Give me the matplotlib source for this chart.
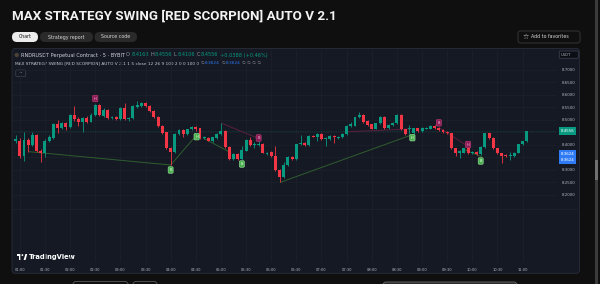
import numpy as np
import matplotlib.pyplot as plt
import matplotlib.transforms as mtransforms
from matplotlib.patches import FancyBboxPatch, Rectangle, Circle, Polygon

# RNDRUSDT 5 min candles, first candle 00:50
start_time = '00:50'
opens = [8.4520, 8.4128, 8.4148, 8.3560, 8.4188, 8.3988, 8.4388, 8.3760, 8.3656, 8.4160,
         8.4256, 8.4816, 8.4656, 8.4856, 8.4696, 8.5188, 8.5028, 8.4896, 8.5056, 8.4920,
         8.5188, 8.5588, 8.5160, 8.5388, 8.5056, 8.5108, 8.5028, 8.5456, 8.5016, 8.5056,
         8.5520, 8.5560, 8.5680, 8.5548, 8.5348, 8.5120, 8.4760, 8.4496, 8.3880, 8.3696,
         8.4416, 8.4588, 8.4428, 8.4616, 8.4720, 8.4656, 8.4256, 8.4256, 8.4160, 8.4256,
         8.4416, 8.4560, 8.3920, 8.3416, 8.3628, 8.3428, 8.3760, 8.4188, 8.3988, 8.3988,
         8.4028, 8.3640, 8.3720, 8.3560, 8.2988, 8.2696, 8.3188, 8.3520, 8.3428, 8.4028,
         8.4080, 8.3988, 8.4360, 8.4320, 8.4416, 8.4216, 8.4228, 8.4360, 8.4280, 8.4296,
         8.4428, 8.4760, 8.4760, 8.5096, 8.5188, 8.4948, 8.4816, 8.4640, 8.4856, 8.5108,
         8.4680, 8.4788, 8.4880, 8.5188, 8.4616, 8.4616, 8.4456, 8.4656, 8.4548, 8.4640,
         8.4640, 8.4760, 8.4680, 8.4588, 8.4520, 8.4456, 8.3856, 8.3656, 8.3680, 8.3856,
         8.3656, 8.3720, 8.3628, 8.3896, 8.4456, 8.4280, 8.3856, 8.3656, 8.3588, 8.3548,
         8.3548, 8.3680, 8.4028, 8.4168]
highs = [8.4588, 8.4388, 8.4256, 8.4520, 8.4268, 8.4520, 8.4428, 8.3828, 8.4228, 8.4388,
         8.4868, 8.4988, 8.4908, 8.4908, 8.5228, 8.5548, 8.5108, 8.5108, 8.5148, 8.5268,
         8.5628, 8.5628, 8.5468, 8.5428, 8.5168, 8.5148, 8.5508, 8.5656, 8.5128, 8.5588,
         8.5748, 8.5708, 8.5708, 8.5588, 8.5388, 8.5148, 8.4788, 8.4528, 8.3928, 8.4468,
         8.4648, 8.4628, 8.4648, 8.4748, 8.4748, 8.4688, 8.4368, 8.4288, 8.4328, 8.4468,
         8.4856, 8.4588, 8.3948, 8.3668, 8.3648, 8.3948, 8.4228, 8.4320, 8.4108, 8.4148,
         8.4068, 8.3728, 8.3748, 8.3948, 8.3028, 8.3320, 8.3568, 8.3548, 8.4048, 8.4388,
         8.4108, 8.4388, 8.4388, 8.4448, 8.4448, 8.4308, 8.4388, 8.4388, 8.4348, 8.4448,
         8.4788, 8.4896, 8.5128, 8.5296, 8.5228, 8.4988, 8.4848, 8.4888, 8.5148, 8.5148,
         8.4828, 8.4908, 8.5228, 8.5228, 8.4648, 8.4788, 8.4688, 8.4688, 8.4708, 8.4728,
         8.4788, 8.4788, 8.4708, 8.4628, 8.4548, 8.4488, 8.3888, 8.3788, 8.3888, 8.3888,
         8.3748, 8.3748, 8.3948, 8.4488, 8.4488, 8.4308, 8.3888, 8.3668, 8.3628, 8.3720,
         8.3708, 8.4048, 8.4168, 8.4556]
lows = [8.4068, 8.4068, 8.3456, 8.3348, 8.3720, 8.3948, 8.3708, 8.3320, 8.3508, 8.4108,
        8.4228, 8.4456, 8.4628, 8.4588, 8.4668, 8.4948, 8.4748, 8.4520, 8.4868, 8.4908,
        8.5148, 8.5148, 8.5108, 8.5028, 8.5028, 8.4988, 8.4988, 8.4988, 8.4968, 8.5028,
        8.5488, 8.5528, 8.5508, 8.5308, 8.5068, 8.4708, 8.4428, 8.3848, 8.3188, 8.3668,
        8.4388, 8.4328, 8.4388, 8.4588, 8.4548, 8.4228, 8.4228, 8.4128, 8.4108, 8.4228,
        8.4388, 8.3888, 8.3388, 8.3388, 8.3388, 8.3388, 8.3748, 8.3948, 8.3868, 8.3948,
        8.3648, 8.3608, 8.3508, 8.2948, 8.2496, 8.2668, 8.3148, 8.3388, 8.3388, 8.3988,
        8.3948, 8.3948, 8.4288, 8.4148, 8.4188, 8.3948, 8.4188, 8.4056, 8.4248, 8.4268,
        8.4388, 8.4728, 8.4748, 8.5068, 8.4888, 8.4748, 8.4608, 8.4608, 8.4828, 8.4648,
        8.4648, 8.4748, 8.4848, 8.4588, 8.4388, 8.4428, 8.4428, 8.4508, 8.4508, 8.4608,
        8.4608, 8.4628, 8.4548, 8.4468, 8.4428, 8.3828, 8.3548, 8.3480, 8.3648, 8.3628,
        8.3628, 8.3588, 8.3588, 8.3868, 8.4248, 8.3828, 8.3628, 8.3280, 8.3508, 8.3388,
        8.3508, 8.3648, 8.4008, 8.4106]
closes = [8.4120, 8.4248, 8.3560, 8.4188, 8.3988, 8.4388, 8.3760, 8.3656, 8.4160, 8.4296,
          8.4816, 8.4656, 8.4856, 8.4696, 8.5188, 8.5028, 8.4896, 8.5056, 8.4920, 8.5188,
          8.5588, 8.5188, 8.5388, 8.5056, 8.5120, 8.5028, 8.5456, 8.5016, 8.5080, 8.5548,
          8.5588, 8.5680, 8.5548, 8.5348, 8.5120, 8.4760, 8.4456, 8.3880, 8.3696, 8.4416,
          8.4588, 8.4416, 8.4616, 8.4720, 8.4616, 8.4256, 8.4320, 8.4160, 8.4296, 8.4428,
          8.4560, 8.3920, 8.3416, 8.3628, 8.3428, 8.3788, 8.4188, 8.3988, 8.4028, 8.4028,
          8.3680, 8.3680, 8.3560, 8.2988, 8.2696, 8.3188, 8.3520, 8.3428, 8.4016, 8.4080,
          8.3988, 8.4348, 8.4320, 8.4416, 8.4216, 8.4256, 8.4360, 8.4296, 8.4320, 8.4428,
          8.4760, 8.4816, 8.5096, 8.5188, 8.4920, 8.4788, 8.4640, 8.4856, 8.5108, 8.4680,
          8.4788, 8.4880, 8.5188, 8.4616, 8.4428, 8.4680, 8.4656, 8.4548, 8.4680, 8.4680,
          8.4760, 8.4656, 8.4588, 8.4520, 8.4456, 8.3856, 8.3656, 8.3748, 8.3856, 8.3656,
          8.3720, 8.3628, 8.3920, 8.4456, 8.4280, 8.3856, 8.3656, 8.3560, 8.3548, 8.3588,
          8.3680, 8.4028, 8.4148, 8.4556]

time_labels = ['01:00', '01:30', '02:00', '02:30', '03:00', '03:30', '04:00', '04:30',
               '05:00', '05:30', '06:00', '06:30', '07:00', '07:30', '08:00', '08:30',
               '09:00', '09:30', '10:00', '10:30', '11:00']
price_ticks = [8.20, 8.25, 8.30, 8.35, 8.40, 8.45, 8.50, 8.55, 8.60, 8.65, 8.70]

# strategy pivot lines (bar index, price)
long_lines = [((4.2, 8.3720), (38, 8.3188)), ((38, 8.3188), (44.2, 8.4388)),
              ((45.9, 8.4256), (51.9, 8.3720)), ((64.2, 8.2496), (95.9, 8.4416)),
              ((108.3, 8.3788), (112.2, 8.3520))]
short_lines = [((50.2, 8.4856), (58.9, 8.4256)), ((80.4, 8.4520), (95.1, 8.4628)),
               ((102.3, 8.4656), (109.1, 8.3920))]
# signal labels (bar index, price, letter)
short_marks = [(20, 8.5848, 'H'), (59, 8.4268, 'B'), (102, 8.4876, 'B'), (109, 8.4008, 'H')]
long_marks = [(38, 8.2988, 'B'), (44.2, 8.4320, 'H'), (55, 8.3228, 'B'),
              (95.7, 8.4280, 'H'), (112, 8.3348, 'B')]

last_price = 8.4556
stop_price = 8.3624

teal = '#089981'
red = '#f23645'
page = '#0f0f0f'
panel = '#151924'
grid = '#1d212c'

fig = plt.figure(figsize=(6, 2.84), dpi=100)
fig.patch.set_facecolor(page)

# page layer in pixel coords
bg = fig.add_axes([0, 0, 1, 1])
bg.set_xlim(0, 600)
bg.set_ylim(284, 0)
bg.axis('off')

bg.text(12, 16, 'MAX STRATEGY SWING [RED SCORPION] AUTO V 2.1', color='#f2f2f2',
        fontsize=9.6, fontweight='bold', family='Roboto', va='center', ha='left')


def pill(x0, y0, x1, y1, fc, ec, r):
    bg.add_patch(FancyBboxPatch((x0, y0), x1 - x0, y1 - y0,
                                boxstyle=f'round,pad=0,rounding_size={r}',
                                fc=fc, ec=ec, lw=0.6))


pill(12, 32, 38, 42, '#ececec', 'none', 5)
bg.text(25, 37, 'Chart', color='#111111', fontsize=3.4, ha='center', va='center')
pill(40, 32, 93, 42, '#2a2a2a', 'none', 5)
bg.text(66.5, 37, 'Strategy report', color='#d6d6d6', fontsize=3.4, ha='center', va='center')
pill(94.5, 32, 137, 42, '#2a2a2a', 'none', 5)
bg.text(115.7, 37, 'Source code', color='#d6d6d6', fontsize=3.4, ha='center', va='center')
pill(518, 31, 580, 43, page, '#3a3a3a', 2.5)
bg.text(526, 37, '☆', color='#e0e0e0', fontsize=5, ha='center', va='center')
bg.text(531, 37, 'Add to favorites', color='#d6d6d6', fontsize=3.4, ha='left', va='center')

# chart panel
pill(12, 48.5, 579.5, 273.3, panel, '#2a2e39', 3)
bg.plot([13, 579], [209, 209], color=grid, lw=0.7)

# bottom of page / scrollbar
pill(73, 281.5, 128, 292, page, '#5a5a5a', 3)
pill(133, 281.5, 157, 292, page, '#5a5a5a', 3)
pill(383, 282, 517, 292, '#2c2c2c', '#6a6a6a', 3)
bg.add_patch(Rectangle((594.5, 0), 3.5, 284, fc='#3b3b3b', ec='none'))
bg.add_patch(Rectangle((595, 160), 3, 20, fc='#707070', ec='none'))

renderer = fig.canvas.get_renderer()


def run_text(x, y, parts, size, gap=1.2):
    for s, c in parts:
        t = bg.text(x, y, s, color=c, fontsize=size, va='center', ha='left')
        x += t.get_window_extent(renderer).width + gap
    return x


bg.add_patch(Circle((16.7, 55), 2.2, fc='#4a4236', ec='none'))
gray = '#9598a1'
run_text(21, 55, [('RNDRUSDT Perpetual Contract · 5 · BYBIT', '#d1d4dc'),
                  ('O', gray), ('8.4168', teal), ('H', gray), ('8.4556', teal),
                  ('L', gray), ('8.4106', teal), ('C', gray), ('8.4556', teal),
                  ('+0.0388 (+0.46%)', teal)], 3.6)
run_text(15, 63.3, [('MAX STRATEGY SWING [RED SCORPION] AUTO V 2.1 1 5 close 12 26 9 100 2 0 0 100 0',
                     '#c8cbd3'), ('∅', gray), ('8.3624', '#2f7bf5'), ('∅', gray),
                    ('8.3624', '#2f7bf5'), ('∅ ∅ ∅ ∅', gray)], 3.1)
pill(15.7, 70, 25.7, 76.5, panel, '#3a3e4a', 1)
bg.text(20.7, 73.6, '^', color='#c8cbd3', fontsize=3.2, ha='center', va='center')

# TradingView logo
bg.add_patch(Polygon([(16.5, 254), (21.2, 254), (21.2, 260), (19.4, 260), (19.4, 256), (16.5, 256)],
                     fc='white', ec='none'))
bg.add_patch(Circle((22.4, 255.1), 0.9, fc='white', ec='none'))
bg.add_patch(Polygon([(23.6, 260), (25.4, 254), (27.2, 254), (25.6, 260)], fc='white', ec='none'))
bg.text(29, 257.2, 'TradingView', color='white', fontsize=4.9, fontweight='semibold',
        va='center', ha='left')

# USDT box
pill(559.3, 51, 578.3, 58.3, '#0c0e15', '#3a3e4a', 1)
bg.text(560.5, 54.8, 'USDT', color='#b2b5be', fontsize=2.7, va='center', ha='left')

# chart area
ax = fig.add_axes([13 / 600, 1 - 262 / 284, (556 - 13) / 600, (262 - 50) / 284])
ax.set_facecolor('none')
n = len(opens)
x = np.arange(n)
o = np.array(opens)
c = np.array(closes)
h = np.array(highs)
lo = np.array(lows)
up = c >= o
cols = np.where(up, teal, red)

ax.vlines(x, lo, h, colors=cols, lw=0.6, zorder=3)
body_bottom = np.minimum(o, c)
body_h = np.maximum(np.abs(c - o), 0.004)
ax.bar(x, body_h, bottom=body_bottom, width=0.7, color=cols, lw=0, zorder=4)

for (x0, y0), (x1, y1) in long_lines:
    ax.plot([x0, x1], [y0, y1], color='#2f5e2f', lw=0.7, zorder=2)
for (x0, y0), (x1, y1) in short_lines:
    ax.plot([x0, x1], [y0, y1], color='#5a1f3c', lw=0.7, zorder=2)

for xi, p, s in short_marks:
    ax.text(xi, p, s, color='#f0c0d8', fontsize=2.6, ha='center', va='center', zorder=6,
            bbox=dict(boxstyle='round,pad=0.35,rounding_size=0.3', fc='#8e1b55', ec='#c2407e', lw=0.4))
for xi, p, s in long_marks:
    ax.text(xi, p, s, color='#e8ffe8', fontsize=2.6, ha='center', va='center', zorder=6,
            bbox=dict(boxstyle='round,pad=0.35,rounding_size=0.3', fc='#4caf50', ec='#9be39e', lw=0.4))

ax.axhline(last_price, color=teal, lw=0.5, ls=(0, (1, 1.5)), alpha=0.45, zorder=1)

start_min = int(start_time[:2]) * 60 + int(start_time[3:])
tick_pos = [(int(t[:2]) * 60 + int(t[3:]) - start_min) / 5 for t in time_labels]
ax.set_xticks(tick_pos)
ax.set_xticklabels(time_labels)
ax.set_yticks(price_ticks)
# labels hidden by the price badges are left blank
covered = [last_price, stop_price]
ax.set_yticklabels(['' if min(abs(p - q) for q in covered) < 0.02 else f'{p:.4f}'
                    for p in price_ticks])
ax.yaxis.tick_right()
ax.tick_params(axis='x', length=0, pad=4.2, labelsize=2.6, labelcolor='#b2b5be')
ax.tick_params(axis='y', length=0, pad=3.8, labelsize=2.9, labelcolor='#b2b5be')
ax.grid(color=grid, lw=0.5)
ax.set_axisbelow(True)
for sp in ax.spines.values():
    sp.set_visible(False)
ax.set_xlim(0.377, 129.97)
ax.set_ylim(7.9308, 8.7788)

# price scale badges
blend = mtransforms.blended_transform_factory(ax.transAxes, ax.transData)
ax.text(1.0085, last_price, f'{last_price:.4f}', transform=blend, color='white', fontsize=2.9,
        va='center', ha='left', clip_on=False, zorder=7,
        bbox=dict(boxstyle='square,pad=0.45', fc=teal, ec='none'))
for dy in (0, -6.3):
    tr = mtransforms.offset_copy(blend, fig=fig, x=0, y=dy, units='dots')
    ax.text(1.0085, stop_price, f'{stop_price:.4f}', transform=tr, color='white', fontsize=2.9,
            va='center', ha='left', clip_on=False, zorder=7,
            bbox=dict(boxstyle='square,pad=0.45', fc='#2f7bf5', ec='none'))

fig.savefig('out.png', dpi=100, facecolor=page)
